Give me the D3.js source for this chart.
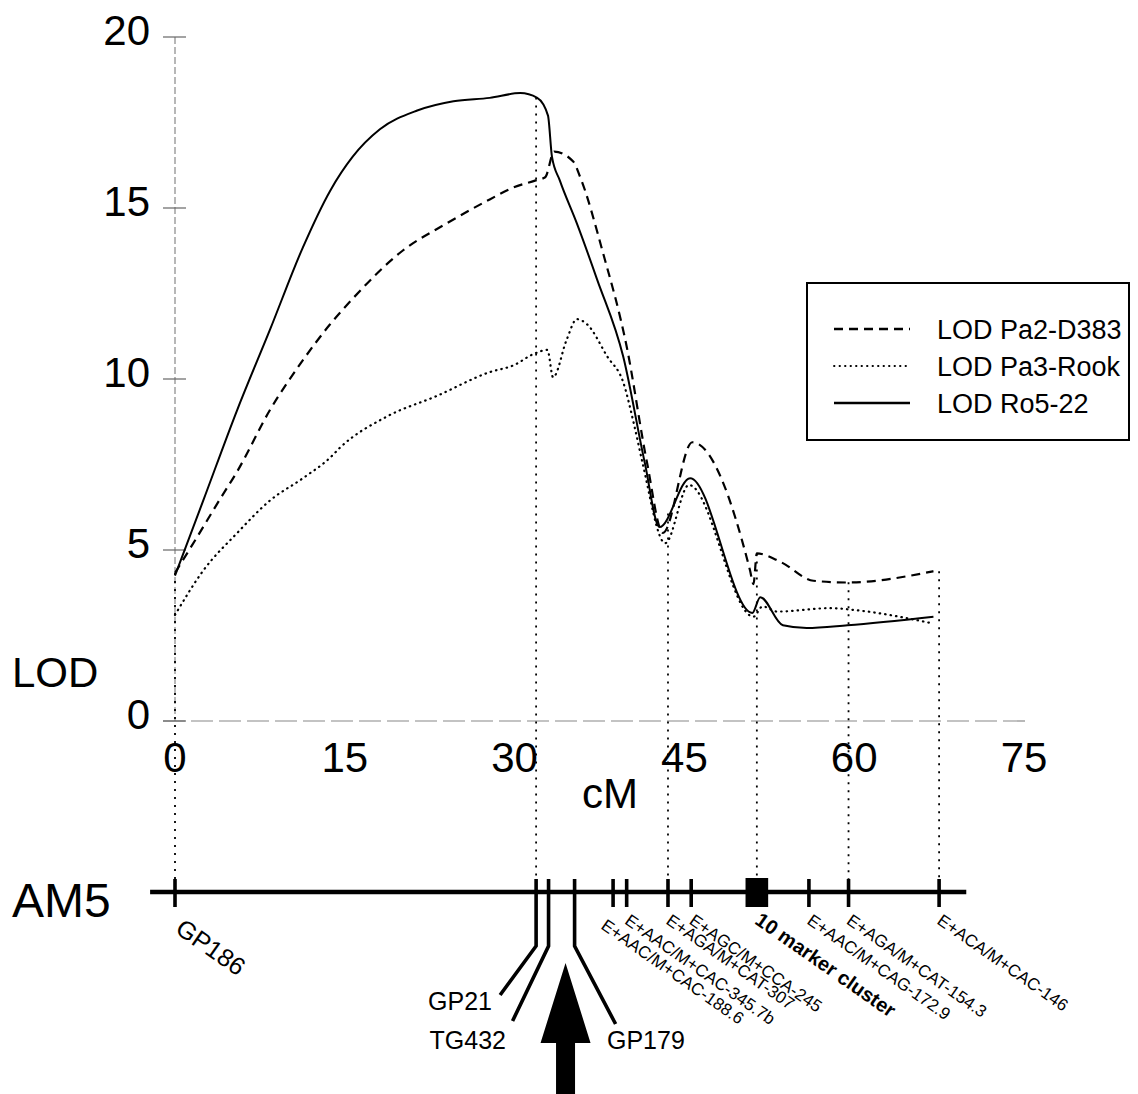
<!DOCTYPE html>
<html lang="en">
<head>
<meta charset="UTF-8">
<script src="https://d3js.org/d3.v7.min.js"></script>
<title>LOD AM5</title>
<style>
  body { margin: 0; background: #fff; }
  svg text { font-family: "Liberation Sans", Arial, sans-serif; fill: #000; }
</style>
</head>
<body>
<div id="container"></div>
<script>
// LOD profiles (cM positions + LOD values)
var pa2Cm  = [0, 1.9, 4.0, 5.5, 8.4, 11.3, 13.7, 15.7, 20.1, 24.0, 27.8, 29.9, 31.8, 32.7, 33.5, 35.2, 35.8, 37.8, 39.9, 41.7, 43.1, 45.7, 50.8, 51.1, 51.4, 53.5, 56.4, 59.4, 67.0];
var pa2Lod = [4.33, 5.35, 6.5, 7.3, 9.1, 10.55, 11.6, 12.35, 13.75, 14.55, 15.25, 15.6, 15.8, 15.9, 16.65, 16.35, 15.9, 13.7, 10.95, 7.55, 5.5, 8.15, 4.4, 4.0, 4.9, 4.65, 4.1, 4.05, 4.38];

var pa3Cm  = [0, 2.5, 5.5, 8.4, 11.3, 13.7, 14.6, 18.7, 23.1, 27.8, 29.9, 31.8, 32.9, 33.4, 34.6, 35.5, 36.4, 38.2, 39.6, 40.6, 41.3, 43.3, 45.4, 51.1, 51.9, 53.2, 57.9, 59.9, 66.7];
var pa3Lod = [3.1, 4.4, 5.5, 6.45, 7.1, 7.7, 8.0, 8.9, 9.5, 10.2, 10.4, 10.75, 10.85, 10.05, 11.15, 11.75, 11.6, 10.65, 9.9, 8.6, 7.55, 5.2, 6.9, 3.05, 3.35, 3.2, 3.3, 3.25, 2.87];

var ro5Cm  = [0, 2.5, 5.5, 8.4, 11.3, 13.7, 15.7, 18.1, 21.4, 24.6, 27.8, 30.5, 32.0, 32.95, 33.3, 34.0, 35.5, 37.3, 39.6, 41.5, 42.8, 45.5, 51.0, 51.7, 53.7, 55.8, 59.4, 67.0];
var ro5Lod = [4.25, 6.45, 9.1, 11.45, 13.85, 15.5, 16.5, 17.3, 17.85, 18.12, 18.22, 18.36, 18.22, 17.7, 16.5, 15.8, 14.55, 12.9, 10.65, 7.55, 5.67, 7.1, 3.16, 3.62, 2.8, 2.72, 2.8, 3.05];

var seriesNames = ["LOD Pa2-D383", "LOD Pa3-Rook", "LOD Ro5-22"];

// linkage map AM5
var markerNames = ["GP186", "GP21", "TG432", "GP179", "E+AAC/M+CAC-188.6", "E+AAC/M+CAC-345.7b",
  "E+AGA/M+CAT-307", "E+AGC/M+CCA-245", "10 marker cluster", "E+AAC/M+CAG-172.9",
  "E+AGA/M+CAT-154.3", "E+ACA/M+CAC-146"];
var markerCm = [0, 31.9, 33.0, 35.3, 38.7, 39.9, 43.55, 45.6, 51.4, 56.0, 59.5, 67.5];
var guideMarkers = ["GP186", "GP21", "E+AGA/M+CAT-307", "10 marker cluster", "E+AGA/M+CAT-154.3", "E+ACA/M+CAC-146"];
var clusterSpan = [50.4, 52.4];
var mapEnds = [-2.2, 69.9];
var qtlPeak = 34.5;

var xTicks = [0, 15, 30, 45, 60, 75];
var yTicks = [0, 5, 10, 15, 20];

var width = 1138, height = 1094;
var mapY = 892;

var svg = d3.select("#container").append("svg")
  .attr("width", width)
  .attr("height", height);

var x = d3.scaleLinear().domain([0, 75]).range([175, 1024]);
var y = d3.scaleLinear().domain([0, 20]).range([721, 37]);

var series = [
  { name: seriesNames[0], cm: pa2Cm, lod: pa2Lod, dash: "9,6", w: 2.2, cap: "butt" },
  { name: seriesNames[1], cm: pa3Cm, lod: pa3Lod, dash: "0.5,5", w: 2.2, cap: "round" },
  { name: seriesNames[2], cm: ro5Cm, lod: ro5Lod, dash: null, w: 2, cap: "butt" }
];

// highest LOD of the three profiles at a given position
function topLod(c) {
  return d3.max(series, function (s) {
    var i = d3.bisectLeft(s.cm, c);
    if (i <= 0) return s.lod[0];
    if (i >= s.cm.length) return s.lod[s.lod.length - 1];
    var t = (c - s.cm[i - 1]) / (s.cm[i] - s.cm[i - 1]);
    return s.lod[i - 1] + t * (s.lod[i] - s.lod[i - 1]);
  });
}

// axes (grey, light)
svg.append("line")
  .attr("x1", x(0)).attr("x2", x(0))
  .attr("y1", y(20)).attr("y2", y(0))
  .attr("stroke", "#888").attr("stroke-width", 1.2)
  .attr("stroke-dasharray", "7,3");

svg.append("line")
  .attr("x1", 163).attr("x2", 1030)
  .attr("y1", y(0)).attr("y2", y(0))
  .attr("stroke", "#888").attr("stroke-width", 1.2)
  .attr("stroke-dasharray", "22,6");

svg.selectAll(".ytick")
  .data(yTicks)
  .enter().append("line")
  .attr("class", "ytick")
  .attr("x1", 163).attr("x2", 186)
  .attr("y1", function (d) { return y(d); })
  .attr("y2", function (d) { return y(d); })
  .attr("stroke", "#666").attr("stroke-width", 1.2);

svg.selectAll(".ylab")
  .data(yTicks)
  .enter().append("text")
  .attr("class", "ylab")
  .attr("x", 150)
  .attr("y", function (d) { return y(d) + 8; })
  .attr("text-anchor", "end")
  .attr("font-size", 42)
  .text(function (d) { return d; });

svg.selectAll(".xlab")
  .data(xTicks)
  .enter().append("text")
  .attr("class", "xlab")
  .attr("x", function (d) { return x(d); })
  .attr("y", 772)
  .attr("text-anchor", "middle")
  .attr("font-size", 42)
  .text(function (d) { return d; });

svg.append("text").attr("x", 610).attr("y", 808)
  .attr("text-anchor", "middle").attr("font-size", 42).text("cM");
svg.append("text").attr("x", 12).attr("y", 687)
  .attr("font-size", 42).text("LOD");

// dotted guides from the profiles down to the map
guideMarkers.forEach(function (name) {
  var c = markerCm[markerNames.indexOf(name)];
  svg.append("line")
    .attr("x1", x(c)).attr("x2", x(c))
    .attr("y1", y(topLod(c))).attr("y2", mapY - 12)
    .attr("stroke", "#000").attr("stroke-width", 1.8)
    .attr("stroke-dasharray", "2,6");
});

// LOD curves
var valueline = d3.line()
  .curve(d3.curveMonotoneX)
  .x(function (d) { return x(d[0]); })
  .y(function (d) { return y(d[1]); });

series.forEach(function (s) {
  svg.append("path")
    .datum(s.cm.map(function (c, i) { return [c, s.lod[i]]; }))
    .attr("fill", "none")
    .attr("stroke", "#000")
    .attr("stroke-width", s.w)
    .attr("stroke-linecap", s.cap)
    .attr("stroke-dasharray", s.dash)
    .attr("d", valueline);
});

// legend
var lg = svg.append("g");
lg.append("rect")
  .attr("x", 807).attr("y", 283).attr("width", 322).attr("height", 157)
  .attr("fill", "#fff").attr("stroke", "#000").attr("stroke-width", 2);
series.forEach(function (s, i) {
  var ly = 329 + i * 37;
  lg.append("line")
    .attr("x1", 834).attr("x2", 910)
    .attr("y1", ly).attr("y2", ly)
    .attr("stroke", "#000")
    .attr("stroke-width", i === 1 ? 1.8 : 2.4)
    .attr("stroke-linecap", s.cap)
    .attr("stroke-dasharray", i === 0 ? "9,6" : (i === 1 ? "0.5,5" : null));
  lg.append("text")
    .attr("x", 937).attr("y", ly + 10)
    .attr("font-size", 27)
    .text(s.name);
});

// linkage map
svg.append("text").attr("x", 12).attr("y", 917)
  .attr("font-size", 48).text("AM5");

svg.append("line")
  .attr("x1", x(mapEnds[0])).attr("x2", x(mapEnds[1]))
  .attr("y1", mapY).attr("y2", mapY)
  .attr("stroke", "#000").attr("stroke-width", 4.5);

var leaders = { "GP21": [-36, 49], "TG432": [-36, 75], "GP179": [41, 78] };

markerNames.forEach(function (name, i) {
  var mx = x(markerCm[i]);
  if (name === "10 marker cluster") {
    svg.append("rect")
      .attr("x", x(clusterSpan[0])).attr("y", mapY - 14)
      .attr("width", x(clusterSpan[1]) - x(clusterSpan[0])).attr("height", 29)
      .attr("fill", "#000");
  } else if (leaders[name]) {
    var l = leaders[name];
    svg.append("polyline")
      .attr("points", [[mx, mapY - 13], [mx, mapY + 54], [mx + l[0], mapY + 54 + l[1]]].join(" "))
      .attr("fill", "none").attr("stroke", "#000").attr("stroke-width", 3.6);
  } else {
    svg.append("line")
      .attr("x1", mx).attr("x2", mx)
      .attr("y1", mapY - 13).attr("y2", mapY + 15)
      .attr("stroke", "#000").attr("stroke-width", 3.6);
  }
});

// marker labels
markerNames.forEach(function (name, i) {
  var mx = x(markerCm[i]);
  if (name === "GP21") {
    svg.append("text").attr("x", 492).attr("y", 1010)
      .attr("text-anchor", "end").attr("font-size", 25).text(name);
  } else if (name === "TG432") {
    svg.append("text").attr("x", 506).attr("y", 1049)
      .attr("text-anchor", "end").attr("font-size", 25).text(name);
  } else if (name === "GP179") {
    svg.append("text").attr("x", 607).attr("y", 1049)
      .attr("font-size", 25).text(name);
  } else if (name === "GP186") {
    svg.append("text")
      .attr("transform", "translate(" + (mx - 1) + ",932) rotate(35)")
      .attr("font-size", 25).text(name);
  } else {
    var shift = name === "E+AAC/M+CAC-188.6" ? [-13, 5] : [-3, 0];
    var t = svg.append("text")
      .attr("transform", "translate(" + (mx + shift[0]) + "," + (923 + shift[1]) + ") rotate(35)")
      .attr("font-size", name === "10 marker cluster" ? 20 : 17)
      .text(name);
    if (name === "10 marker cluster") t.attr("font-weight", "bold");
  }
});

// arrow at the QTL peak
var ax = x(qtlPeak);
svg.append("path")
  .attr("d", "M" + ax + ",963 L" + (ax + 25) + ",1043 L" + (ax + 9.5) + ",1043 L" + (ax + 9.5) + ",1094 L" +
    (ax - 9.5) + ",1094 L" + (ax - 9.5) + ",1043 L" + (ax - 25) + ",1043 Z")
  .attr("fill", "#000");
</script>
</body>
</html>
